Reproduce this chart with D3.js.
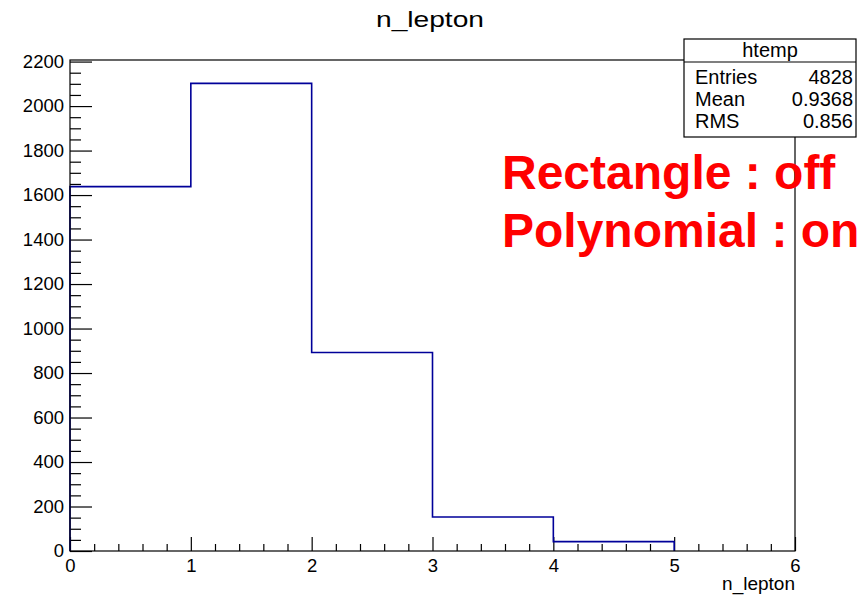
<!DOCTYPE html>
<html>
<head>
<meta charset="utf-8">
<script src="https://cdn.jsdelivr.net/npm/d3@7"></script>
<style>
  body { margin: 0; background: #fff; }
  svg { display: block; font-family: "Liberation Sans", Arial, Helvetica, sans-serif; }
</style>
</head>
<body>
<svg id="chart" width="868" height="597"></svg>
<script>
// histogram data
const binEdges = [0, 1, 2, 3, 4, 5, 6];
const counts = [1638, 2102, 892, 153, 42, 0];
const yMajorTicks = [0, 200, 400, 600, 800, 1000, 1200, 1400, 1600, 1800, 2000, 2200];
const xMajorTicks = [0, 1, 2, 3, 4, 5, 6];
const statsLabels = ['Entries', 'Mean', 'RMS'];
const statsValues = ['4828', '0.9368', '0.856'];

// plot frame
const margin = { top: 60, right: 73, bottom: 46, left: 70 };
const width = 868 - margin.left - margin.right;
const height = 597 - margin.top - margin.bottom;

const svg = d3.select('#chart');
const g = svg.append('g').attr('transform', `translate(${margin.left},${margin.top})`);

const x = d3.scaleLinear().domain([0, 6]).range([0, width]);
const y = d3.scaleLinear().domain([0, d3.max(counts) * 1.05]).range([height, 0]);

// minor ticks
const yMinor = d3.range(0, 2201, 50).filter((v) => v % 200 !== 0);
const xMinor = d3.range(0, 6.001, 0.2).map((v) => +v.toFixed(1)).filter((v) => v % 1 !== 0);

// title
svg.append('text')
  .attr('x', 430).attr('y', 27)
  .attr('text-anchor', 'middle')
  .attr('font-size', 22)
  .attr('textLength', 108).attr('lengthAdjust', 'spacingAndGlyphs')
  .text('n_lepton');

// red annotation
svg.append('text')
  .attr('x', 502).attr('y', 189)
  .attr('font-size', 48).attr('font-weight', 'bold').attr('fill', '#ff0000')
  .text('Rectangle : off');
svg.append('text')
  .attr('x', 502).attr('y', 247)
  .attr('font-size', 48).attr('font-weight', 'bold').attr('fill', '#ff0000')
  .text('Polynomial : on');

// y axis
const yAxis = g.append('g')
  .call(d3.axisLeft(y).tickValues(yMajorTicks).tickSize(-22).tickPadding(6).tickFormat(d3.format('d')))
  .call((a) => a.select('.domain').remove());
yAxis.attr('font-family', null);
yAxis.selectAll('.tick text').attr('font-size', 18.5).attr('fill', '#000');
g.append('g')
  .call(d3.axisLeft(y).tickValues(yMinor).tickSize(-11).tickFormat(''))
  .call((a) => a.select('.domain').remove());

// x axis
const xAxis = g.append('g')
  .attr('transform', `translate(0,${height})`)
  .call(d3.axisBottom(x).tickValues(xMajorTicks).tickSize(-14).tickPadding(8).tickFormat(d3.format('d')))
  .call((a) => a.select('.domain').remove());
xAxis.attr('font-family', null);
xAxis.selectAll('.tick text').attr('font-size', 18.5).attr('fill', '#000');
g.append('g')
  .attr('transform', `translate(0,${height})`)
  .call(d3.axisBottom(x).tickValues(xMinor).tickSize(-7).tickFormat(''))
  .call((a) => a.select('.domain').remove());

g.selectAll('.tick line').attr('stroke', '#000').attr('stroke-width', 1.2);

// axis title
g.append('text')
  .attr('x', width).attr('y', height + 39)
  .attr('text-anchor', 'end')
  .attr('font-size', 19)
  .text('n_lepton');

// histogram outline
const pts = [[binEdges[0], 0]];
counts.forEach((c, i) => {
  if (i === counts.length - 1) return;
  pts.push([binEdges[i], c], [binEdges[i + 1], c]);
});
pts.push([binEdges[counts.length - 1], 0]);
g.append('path')
  .datum(pts)
  .attr('fill', 'none')
  .attr('stroke', '#000099')
  .attr('stroke-width', 1.6)
  .attr('d', d3.line().x((d) => x(d[0])).y((d) => y(d[1])));

// frame
g.append('rect')
  .attr('x', 0).attr('y', 0).attr('width', width).attr('height', height)
  .attr('fill', 'none').attr('stroke', '#000').attr('stroke-width', 1.2);

// stats box
const box = { x: 684, y: 39, w: 172, h: 98 };
const sb = svg.append('g');
sb.append('rect')
  .attr('x', box.x).attr('y', box.y).attr('width', box.w).attr('height', box.h)
  .attr('fill', '#fff').attr('stroke', '#000').attr('stroke-width', 1.2);
sb.append('line')
  .attr('x1', box.x).attr('x2', box.x + box.w)
  .attr('y1', box.y + 23).attr('y2', box.y + 23)
  .attr('stroke', '#000').attr('stroke-width', 1.2);
sb.append('text')
  .attr('x', box.x + box.w / 2).attr('y', box.y + 18)
  .attr('text-anchor', 'middle').attr('font-size', 20)
  .text('htemp');
statsLabels.forEach((lab, i) => {
  sb.append('text')
    .attr('x', box.x + 11).attr('y', box.y + 45 + i * 22)
    .attr('font-size', 20)
    .text(lab);
  sb.append('text')
    .attr('x', box.x + box.w - 3).attr('y', box.y + 45 + i * 22)
    .attr('text-anchor', 'end').attr('font-size', 20)
    .text(statsValues[i]);
});
</script>
</body>
</html>
